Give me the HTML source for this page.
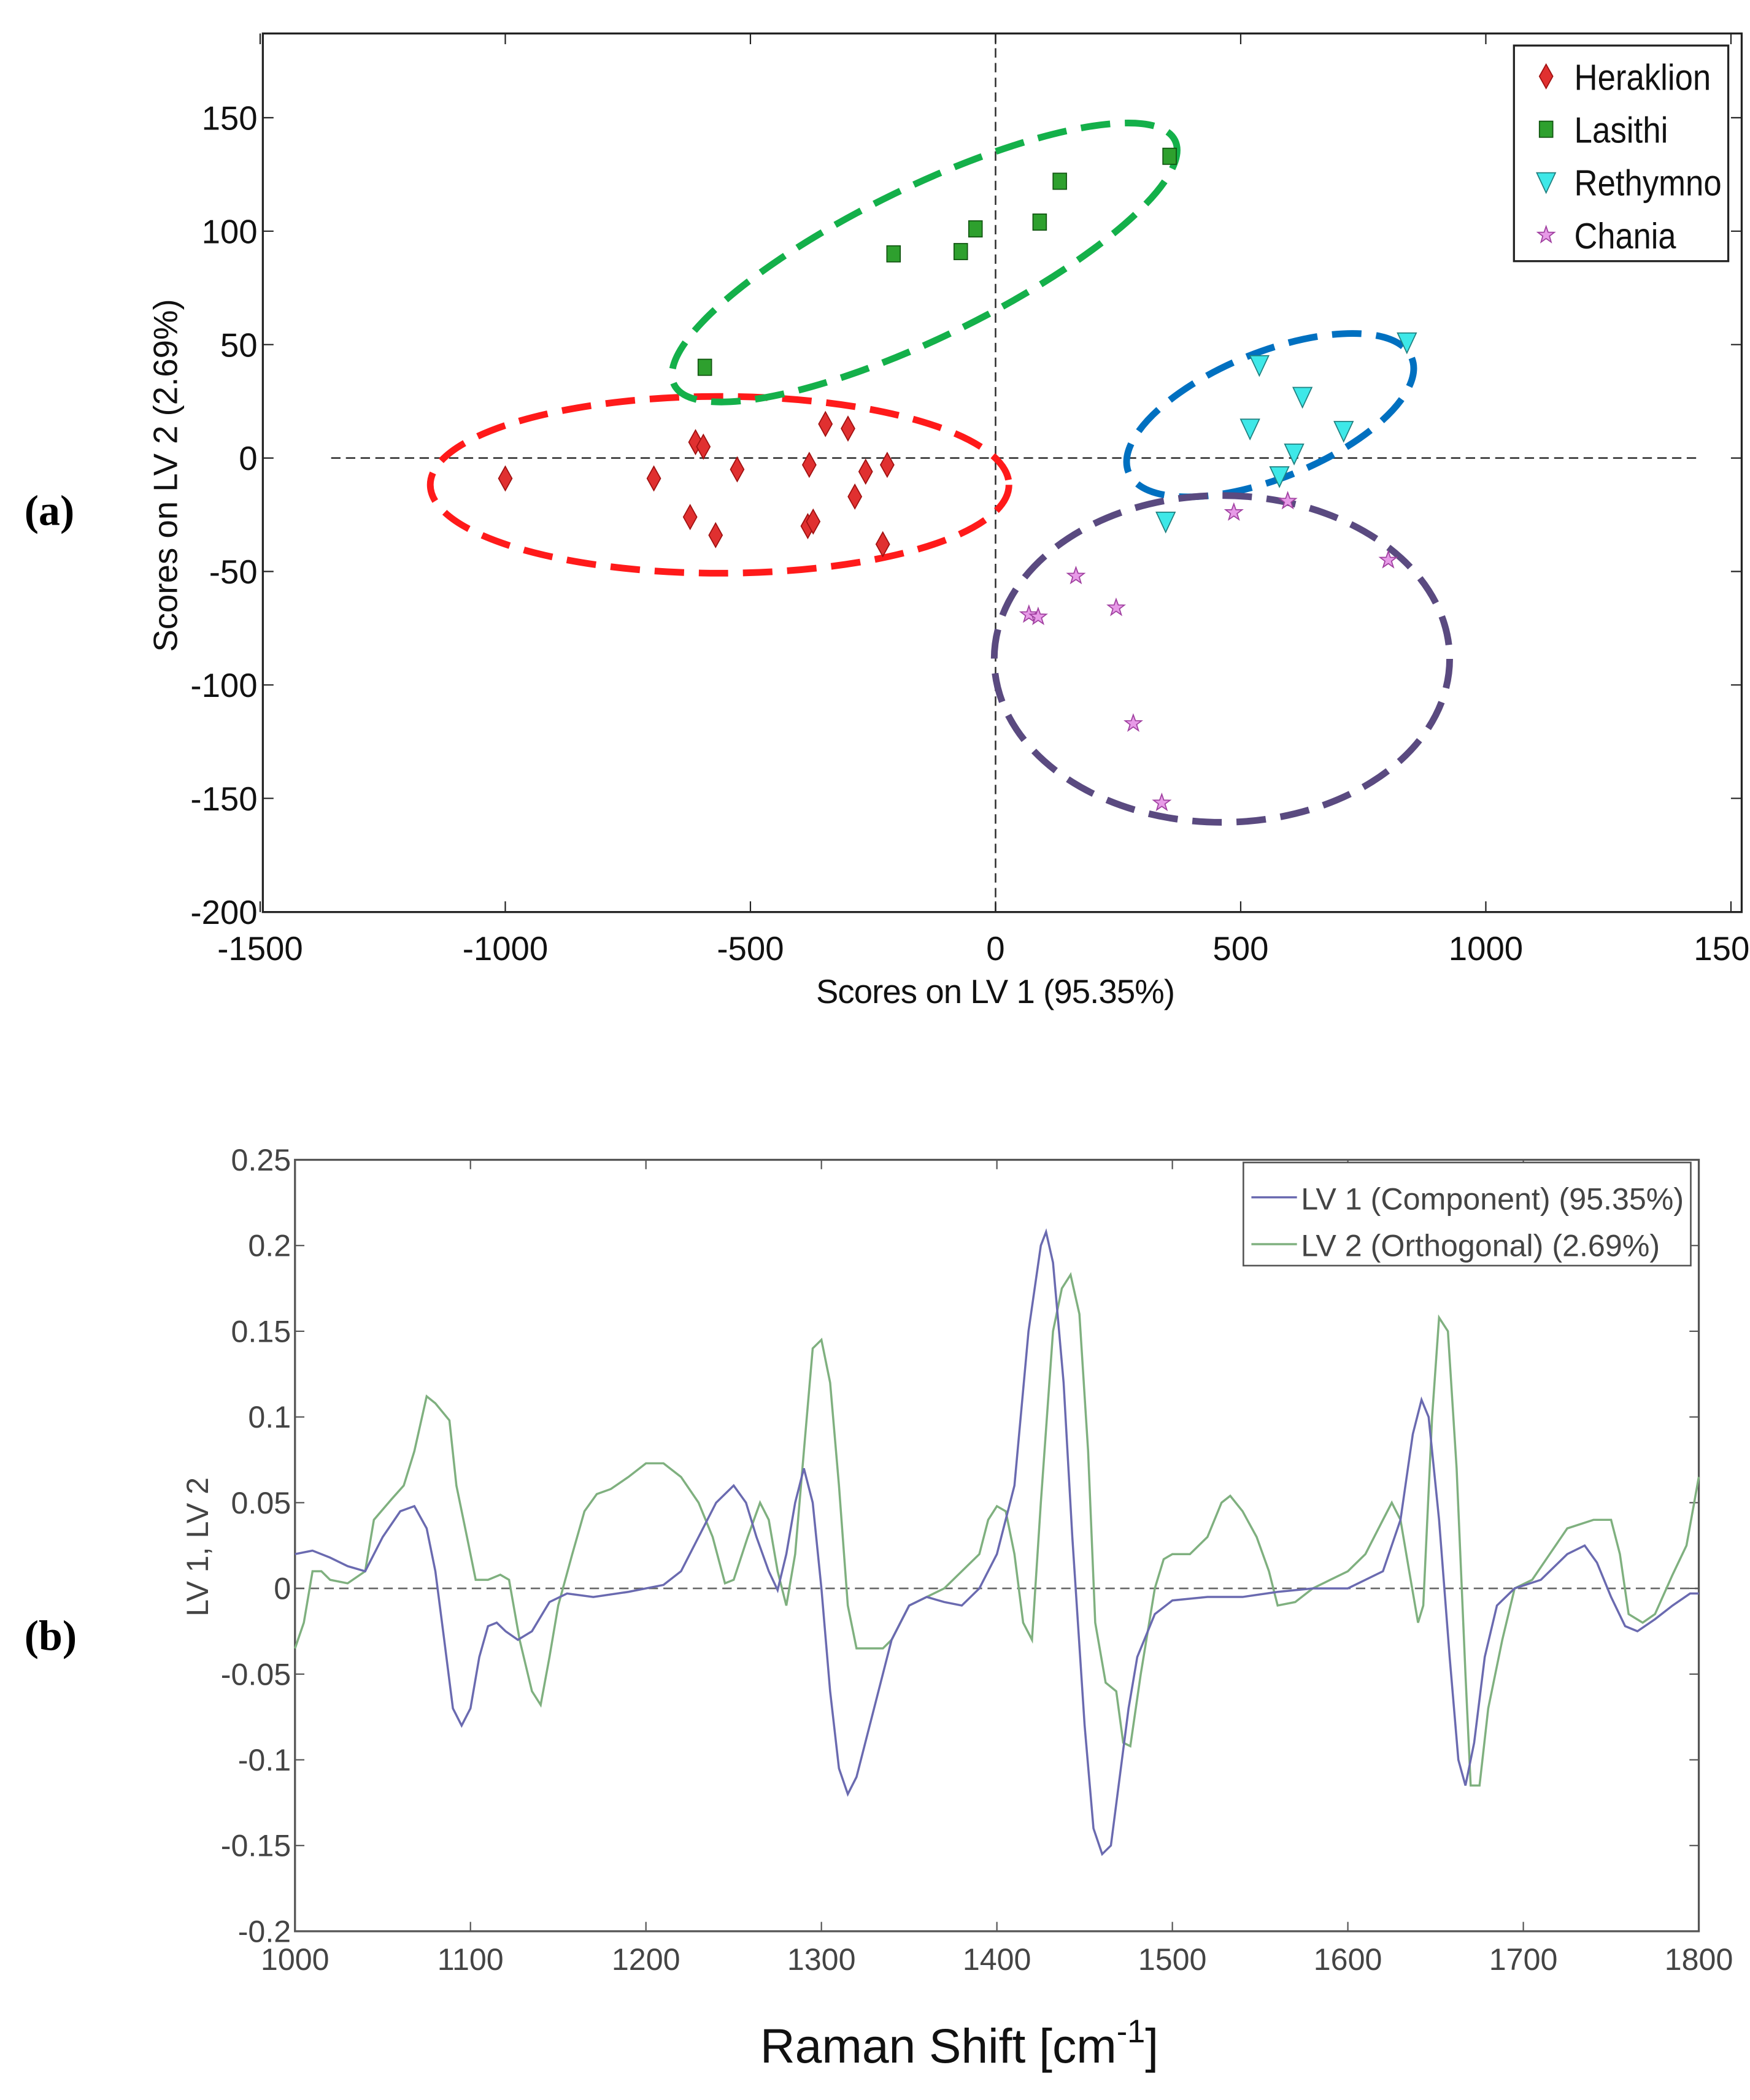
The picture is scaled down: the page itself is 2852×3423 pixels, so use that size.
<!DOCTYPE html>
<html><head><meta charset="utf-8"><style>
html,body{margin:0;padding:0;background:#fff;}
svg{display:block;}
text{font-family:"Liberation Sans",Arial,sans-serif;}
</style></head><body>
<svg id="fig" width="2852" height="3423" viewBox="0 0 1306 1568" xmlns="http://www.w3.org/2000/svg">
<rect width="1306" height="1568" fill="#fff"/>
<text x="18" y="392" font-weight="bold" font-size="32" style="font-family:'Liberation Serif',serif">(a)</text>
<text x="18" y="1232" font-size="32" font-weight="bold" style="font-family:'Liberation Serif',serif">(b)</text>
<g id="top"></g>
<g id="bot"></g>
</svg>
<script>
// ---------- Top chart data ----------
const heraklionX=[-1000,-697,-612,-596,-527,-623,-571,-380,-347,-301,-265,-221,-287,-383,-372,-230];
const heraklionY=[-9,-9,7,5,-5,-26,-34,-3,15,13,-6,-3,-17,-30,-28,-38];
const lasithiX=[-593,-208,-71,-41,90,131,355];
const lasithiY=[40,90,91,101,104,122,133];
const rethymnoX=[538,519,626,609,710,579,839,347];
const rethymnoY=[41,13,27,2,12,-8,51,-28];
const chaniaX=[486,596,801,164,68,87,246,281,339];
const chaniaY=[-24,-19,-45,-52,-69,-70,-66,-117,-152];
const topXTicks=[-1500,-1000,-500,0,500,1000,1500];
const topYTicks=[150,100,50,0,-50,-100,-150,-200];
const legendA=["Heraklion","Lasithi","Rethymno","Chania"];

// ---------- Bottom chart data ----------
const lv1X=[1000,1010,1020,1030,1040,1050,1060,1068,1075,1080,1085,1090,1095,1100,1105,1110,1115,1120,1127,1135,1145,1155,1170,1190,1210,1220,1230,1240,1250,1257,1263,1270,1275,1280,1285,1290,1295,1300,1305,1310,1315,1320,1330,1340,1350,1360,1370,1380,1390,1400,1410,1418,1425,1428,1432,1438,1443,1450,1455,1460,1465,1470,1475,1480,1490,1500,1520,1540,1560,1580,1600,1620,1630,1637,1642,1646,1652,1658,1663,1667,1672,1678,1685,1695,1710,1725,1735,1742,1750,1758,1765,1775,1785,1795,1800];
const lv1Y=[0.02,0.022,0.018,0.013,0.01,0.03,0.045,0.048,0.035,0.01,-0.03,-0.07,-0.08,-0.07,-0.04,-0.022,-0.02,-0.025,-0.03,-0.025,-0.008,-0.003,-0.005,-0.002,0.002,0.01,0.03,0.05,0.06,0.05,0.03,0.01,-0.001,0.02,0.05,0.07,0.05,0.0,-0.06,-0.105,-0.12,-0.11,-0.07,-0.03,-0.01,-0.005,-0.008,-0.01,0.0,0.02,0.06,0.15,0.2,0.208,0.19,0.12,0.03,-0.08,-0.14,-0.155,-0.15,-0.11,-0.07,-0.04,-0.015,-0.007,-0.005,-0.005,-0.002,0.0,0.0,0.01,0.04,0.09,0.11,0.1,0.04,-0.04,-0.1,-0.115,-0.09,-0.04,-0.01,0.0,0.005,0.02,0.025,0.015,-0.005,-0.022,-0.025,-0.018,-0.01,-0.003,-0.003];
const lv2X=[1000,1005,1010,1015,1020,1030,1040,1045,1055,1062,1068,1075,1080,1088,1092,1098,1103,1110,1117,1122,1128,1135,1140,1145,1150,1158,1165,1172,1180,1190,1200,1210,1220,1230,1238,1245,1250,1258,1265,1270,1275,1280,1285,1290,1295,1300,1305,1310,1315,1320,1330,1335,1340,1350,1360,1370,1380,1390,1395,1400,1405,1410,1415,1420,1425,1432,1437,1442,1447,1452,1456,1462,1468,1472,1476,1482,1490,1495,1500,1510,1520,1528,1533,1540,1548,1555,1560,1570,1580,1590,1600,1610,1620,1625,1630,1635,1640,1643,1648,1652,1657,1662,1667,1670,1675,1680,1688,1695,1705,1715,1725,1740,1750,1755,1760,1768,1775,1785,1793,1800];
const lv2Y=[-0.035,-0.02,0.01,0.01,0.005,0.003,0.01,0.04,0.052,0.06,0.08,0.112,0.108,0.098,0.06,0.03,0.005,0.005,0.008,0.005,-0.03,-0.06,-0.068,-0.04,-0.01,0.02,0.045,0.055,0.058,0.065,0.073,0.073,0.065,0.05,0.03,0.003,0.005,0.03,0.05,0.04,0.01,-0.01,0.02,0.08,0.14,0.145,0.12,0.06,-0.01,-0.035,-0.035,-0.035,-0.03,-0.01,-0.005,0.0,0.01,0.02,0.04,0.048,0.045,0.02,-0.02,-0.03,0.05,0.15,0.175,0.183,0.16,0.08,-0.02,-0.055,-0.06,-0.09,-0.092,-0.05,0.0,0.017,0.02,0.02,0.03,0.05,0.054,0.045,0.03,0.01,-0.01,-0.008,0.0,0.005,0.01,0.02,0.04,0.05,0.04,0.01,-0.02,-0.01,0.1,0.158,0.15,0.07,-0.05,-0.115,-0.115,-0.07,-0.03,0.0,0.005,0.02,0.035,0.04,0.04,0.02,-0.015,-0.02,-0.015,0.008,0.025,0.065];
const botXTicks=[1000,1100,1200,1300,1400,1500,1600,1700,1800];
const botYTicks=[0.25,0.2,0.15,0.1,0.05,0,-0.05,-0.1,-0.15,-0.2];
const legendB=["LV 1 (Component) (95.35%)","LV 2 (Orthogonal) (2.69%)"];

const NS="http://www.w3.org/2000/svg";
function mk(parent,tag,attrs,txt){const e=document.createElementNS(NS,tag);for(const k in attrs)e.setAttribute(k,attrs[k]);if(txt!==undefined)e.textContent=txt;parent.appendChild(e);return e;}

// ===== TOP =====
const T=document.getElementById('top');
const tx=v=>743+v*0.366, ty=v=>342-v*1.694;
const L=196,R=1300,TP=25,B=681;
let e;
e=mk(T,'rect',{x:L,y:TP,width:R-L,height:B-TP,fill:'none',stroke:'#222','stroke-width':1.5});

e=mk(T,'line',{x1:247,x2:1268,y1:ty(0),y2:ty(0),stroke:'#333','stroke-width':1.2,'stroke-dasharray':'7,4'});

e=mk(T,'line',{x1:tx(0),x2:tx(0),y1:TP,y2:B,stroke:'#333','stroke-width':1.2,'stroke-dasharray':'7,4'});

topXTicks.forEach(v=>{const x=tx(v);
 mk(T,'line',{x1:x,x2:x,y1:B,y2:B-8,stroke:'#222'});mk(T,'line',{x1:x,x2:x,y1:TP,y2:TP+8,stroke:'#222'});
 e=mk(T,'text',{x:x,y:B+36,'font-size':25,'text-anchor':'middle',fill:'#111'},String(v));
 });
topYTicks.forEach(v=>{const y=ty(v);
 mk(T,'line',{x1:L,x2:L+8,y1:y,y2:y,stroke:'#222'});mk(T,'line',{x1:R,x2:R-8,y1:y,y2:y,stroke:'#222'});
 e=mk(T,'text',{x:L-4,y:y+9,'font-size':25,'text-anchor':'end',fill:'#111'},String(v));
 });
e=mk(T,'text',{x:743,y:749,'font-size':25,'text-anchor':'middle',fill:'#111',textLength:268},"Scores on LV 1 (95.35%)");

e=mk(T,'text',{x:0,y:0,'font-size':25,'text-anchor':'middle',fill:'#111',transform:'translate(132,355) rotate(-90)'},"Scores on LV 2 (2.69%)");

[[537,362,216,66,0,'#ff1a1a'],[690,196,208,56,-26,'#14b04a'],[948,310,114,47,-22,'#0070c0'],[912,492,170,122,0,'#5a4a80']].forEach((c,i)=>{
 e=mk(T,'ellipse',{cx:c[0],cy:c[1],rx:c[2],ry:c[3],transform:`rotate(${c[4]} ${c[0]} ${c[1]})`,fill:'none',stroke:c[5],'stroke-width':5,'stroke-dasharray':'22,11'});
 });
function diamond(g,x,y){return mk(g,'polygon',{points:`${x},${y-9} ${x+5},${y} ${x},${y+9} ${x-5},${y}`,fill:'#e03030',stroke:'#a01010','stroke-width':0.8});}
function square(g,x,y){return mk(g,'rect',{x:x-5,y:y-6,width:10,height:12,fill:'#2ea02e',stroke:'#115511','stroke-width':0.8});}
function tri(g,x,y){return mk(g,'polygon',{points:`${x-7},${y-7} ${x+7},${y-7} ${x},${y+8}`,fill:'#3ee8e8',stroke:'#208080','stroke-width':0.8});}
function star(g,x,y){let p=[];for(let k=0;k<10;k++){const r=k%2?2.6:6.5,a=-Math.PI/2+k*Math.PI/5;p.push((x+r*Math.cos(a)).toFixed(1)+','+(y+r*Math.sin(a)).toFixed(1));}
 return mk(g,'polygon',{points:p.join(' '),fill:'#e79ae7',stroke:'#a040a0','stroke-width':0.8});}
heraklionX.forEach((v,i)=>{e=diamond(T,tx(v),ty(heraklionY[i]));});
lasithiX.forEach((v,i)=>{e=square(T,tx(v),ty(lasithiY[i]));});
rethymnoX.forEach((v,i)=>{e=tri(T,tx(v),ty(rethymnoY[i]));});
chaniaX.forEach((v,i)=>{e=star(T,tx(v),ty(chaniaY[i]));});
const lg=mk(T,'g',{});

mk(lg,'rect',{x:1130,y:34,width:160,height:161,fill:'#fff',stroke:'#222','stroke-width':1.5});
const mfn=[diamond,square,tri,star];
const lw=[102,70,110,76];
legendA.forEach((s,i)=>{const y=57+i*39.5;mfn[i](lg,1154,y);
 e=mk(lg,'text',{x:1175,y:y+10,'font-size':27,fill:'#111',textLength:lw[i],lengthAdjust:'spacingAndGlyphs'},s);
 });

// ===== BOTTOM =====
const G=document.getElementById('bot');
const bx=v=>220+(v-1000)*1.31, by=v=>1186-v*1280;
const BL=220,BR=1268,BT=866,BB=1442;
e=mk(G,'rect',{x:BL,y:BT,width:BR-BL,height:BB-BT,fill:'none',stroke:'#555','stroke-width':1.5});

e=mk(G,'line',{x1:BL,x2:BR,y1:by(0),y2:by(0),stroke:'#666','stroke-width':1.2,'stroke-dasharray':'7,4'});

botXTicks.forEach(v=>{const x=bx(v);
 mk(G,'line',{x1:x,x2:x,y1:BB,y2:BB-7,stroke:'#555'});mk(G,'line',{x1:x,x2:x,y1:BT,y2:BT+7,stroke:'#555'});
 e=mk(G,'text',{x:x,y:BB+29,'font-size':23,'text-anchor':'middle',fill:'#444'},String(v));
 });
botYTicks.forEach(v=>{const y=by(v);
 mk(G,'line',{x1:BL,x2:BL+7,y1:y,y2:y,stroke:'#555'});mk(G,'line',{x1:BR,x2:BR-7,y1:y,y2:y,stroke:'#555'});
 e=mk(G,'text',{x:BL-3,y:y+8,'font-size':23,'text-anchor':'end',fill:'#444'},String(v));
 });
const xt=mk(G,'text',{x:716,y:1540,'font-size':36,'text-anchor':'middle',fill:'#111'});

xt.innerHTML='Raman Shift [cm<tspan dy="-15" font-size="24">-1</tspan><tspan dy="15">]</tspan>';
e=mk(G,'text',{x:0,y:0,'font-size':23,'text-anchor':'middle',fill:'#444',transform:'translate(155,1155) rotate(-90)'},"LV 1, LV 2");

function path(xs,ys){return xs.map((v,i)=>(i?'L':'M')+bx(v).toFixed(1)+','+by(ys[i]).toFixed(1)).join(' ');}
e=mk(G,'path',{d:path(lv2X,lv2Y),fill:'none',stroke:'#7fb07f','stroke-width':1.6});

e=mk(G,'path',{d:path(lv1X,lv1Y),fill:'none',stroke:'#6a6ab0','stroke-width':1.6});

const lb=mk(G,'g',{});

mk(lb,'rect',{x:928,y:868,width:334,height:77,fill:'#fff',stroke:'#555','stroke-width':1.2});
['#6a6ab0','#7fb07f'].forEach((c,i)=>{const y=894+i*35;
 mk(lb,'line',{x1:934,x2:968,y1:y,y2:y,stroke:c,'stroke-width':1.6});
 e=mk(lb,'text',{x:971,y:y+9,'font-size':23,fill:'#444'},legendB[i]);
 });
</script>
</body></html>
